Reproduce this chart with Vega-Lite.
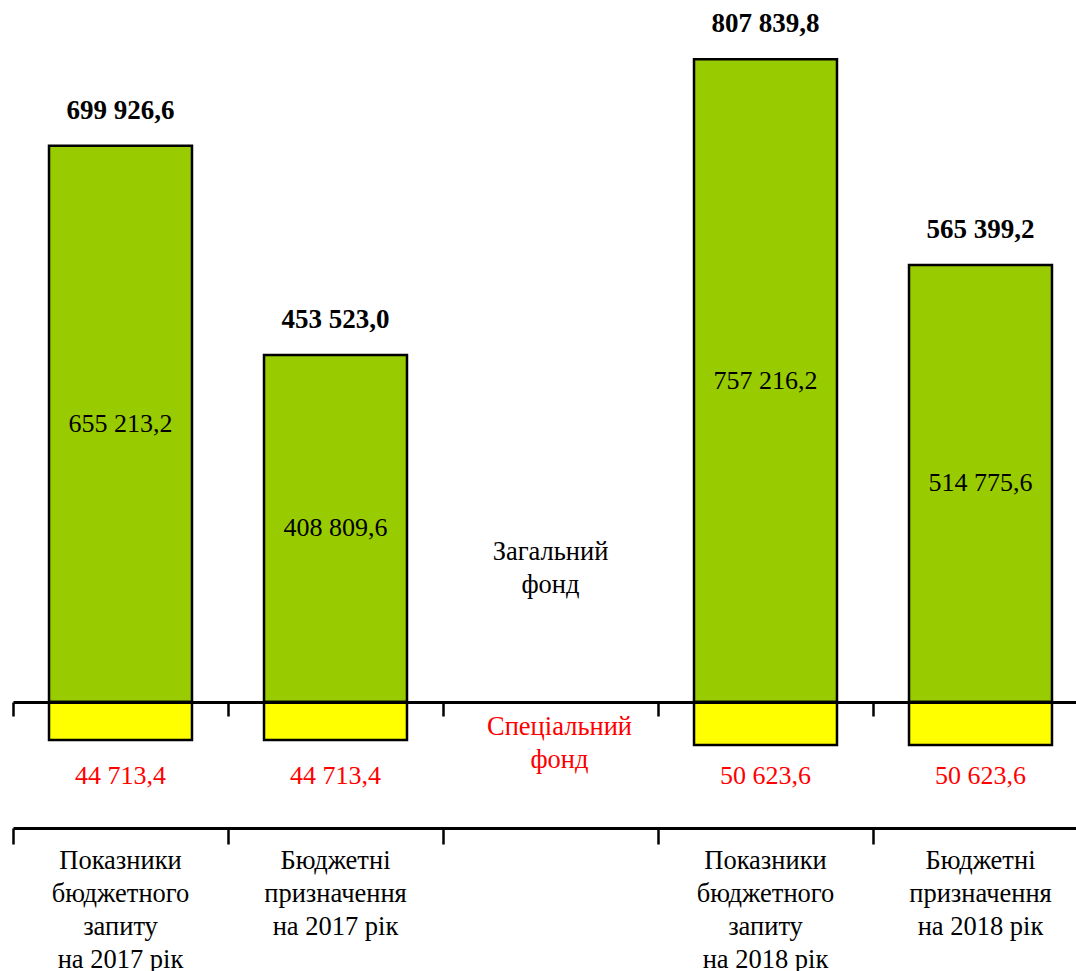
{
  "$schema": "https://vega.github.io/schema/vega-lite/v6.json",
  "width": 1075,
  "height": 828,
  "autosize": {"type": "none"},
  "padding": {"left": 13, "top": 0, "right": 0, "bottom": 143},
  "background": "white",
  "config": {
    "view": {"stroke": null},
    "font": "Liberation Serif",
    "locale": {"number": {"decimal": ",", "thousands": " ", "grouping": [3], "currency": ["", ""]}}
  },
  "data": {
    "values": [
      {"category": "Показники|бюджетного|запиту|на 2017 рік", "general": 655213.2, "special": 44713.4, "total": 699926.6},
      {"category": "Бюджетні|призначення|на 2017 рік", "general": 408809.6, "special": 44713.4, "total": 453523.0},
      {"category": "Показники|бюджетного|запиту|на 2018 рік", "general": 757216.2, "special": 50623.6, "total": 807839.8},
      {"category": "Бюджетні|призначення|на 2018 рік", "general": 514775.6, "special": 50623.6, "total": 565399.2}
    ]
  },
  "transform": [
    {"calculate": "-datum.special", "as": "special_neg"},
    {"calculate": "datum.general / 2", "as": "general_mid"}
  ],
  "layer": [
    {
      "mark": {"type": "bar", "color": "#99CC00", "stroke": "black", "strokeWidth": 2.5, "width": {"band": 0.665}},
      "encoding": {
        "x": {
          "field": "category", "type": "nominal", "sort": null,
          "scale": {"domain": ["Показники|бюджетного|запиту|на 2017 рік", "Бюджетні|призначення|на 2017 рік", " ", "Показники|бюджетного|запиту|на 2018 рік", "Бюджетні|призначення|на 2018 рік"], "paddingInner": 0, "paddingOuter": 0},
          "axis": {
            "title": null, "orient": "bottom", "bandPosition": 0, "labelAngle": 0,
            "labelExpr": "split(datum.label, '|')",
            "labelFont": "Liberation Serif", "labelFontSize": 26.5, "labelColor": "black",
            "labelLineHeight": 33, "labelBaseline": "top", "labelPadding": 3, "labelLimit": 0,
            "domainColor": "black", "domainWidth": 3, "tickColor": "black", "tickWidth": 2.5, "tickSize": 16, "zindex": 1
          }
        },
        "y": {"field": "general", "type": "quantitative", "scale": {"domain": [-148415, 826886], "nice": false, "zero": false}, "axis": null},
        "y2": {"datum": 0}
      }
    },
    {
      "mark": {"type": "bar", "color": "#FFFF00", "stroke": "black", "strokeWidth": 2.5, "width": {"band": 0.665}},
      "encoding": {
        "x": {
          "field": "category", "type": "nominal", "sort": null,
          "scale": {"domain": ["Показники|бюджетного|запиту|на 2017 рік", "Бюджетні|призначення|на 2017 рік", " ", "Показники|бюджетного|запиту|на 2018 рік", "Бюджетні|призначення|на 2018 рік"], "paddingInner": 0, "paddingOuter": 0},
          "axis": {
            "title": null, "orient": "bottom", "offset": -126, "bandPosition": 0, "labels": false,
            "domainColor": "black", "domainWidth": 3, "tickColor": "black", "tickWidth": 2.5, "tickSize": 14, "zindex": 1
          }
        },
        "y": {"field": "special_neg", "type": "quantitative", "scale": {"domain": [-148415, 826886], "nice": false, "zero": false}, "axis": null},
        "y2": {"datum": 0}
      }
    },
    {
      "mark": {"type": "text", "font": "Liberation Serif", "fontSize": 27, "fontWeight": "bold", "color": "black", "baseline": "alphabetic", "dy": -27},
      "encoding": {
        "x": {"field": "category", "type": "nominal", "sort": null, "axis": null},
        "y": {"field": "general", "type": "quantitative", "axis": null},
        "text": {"field": "total", "type": "quantitative", "format": ",.1f"}
      }
    },
    {
      "mark": {"type": "text", "font": "Liberation Serif", "fontSize": 26, "color": "black", "baseline": "middle"},
      "encoding": {
        "x": {"field": "category", "type": "nominal", "sort": null, "axis": null},
        "y": {"field": "general_mid", "type": "quantitative", "axis": null},
        "text": {"field": "general", "type": "quantitative", "format": ",.1f"}
      }
    },
    {
      "mark": {"type": "text", "font": "Liberation Serif", "fontSize": 26, "color": "#FF0000", "baseline": "middle"},
      "encoding": {
        "x": {"field": "category", "type": "nominal", "sort": null, "axis": null},
        "y": {"datum": -87165, "type": "quantitative", "axis": null},
        "text": {"field": "special", "type": "quantitative", "format": ",.1f"}
      }
    },
    {
      "data": {"values": [{"label": "Загальний фонд"}]},
      "mark": {"type": "text", "font": "Liberation Serif", "fontSize": 26.5, "color": "black", "baseline": "middle", "lineHeight": 33, "text": ["Загальний", "фонд"]},
      "encoding": {
        "x": {"datum": " ", "type": "nominal", "axis": null},
        "y": {"datum": 176685, "type": "quantitative", "axis": null}
      }
    },
    {
      "data": {"values": [{"label": "Спеціальний фонд"}]},
      "mark": {"type": "text", "font": "Liberation Serif", "fontSize": 26.5, "color": "#FF0000", "baseline": "middle", "lineHeight": 33, "dx": 9, "text": ["Спеціальний", "фонд"]},
      "encoding": {
        "x": {"datum": " ", "type": "nominal", "axis": null},
        "y": {"datum": -29448, "type": "quantitative", "axis": null}
      }
    }
  ],
  "resolve": {"axis": {"x": "independent"}}
}
